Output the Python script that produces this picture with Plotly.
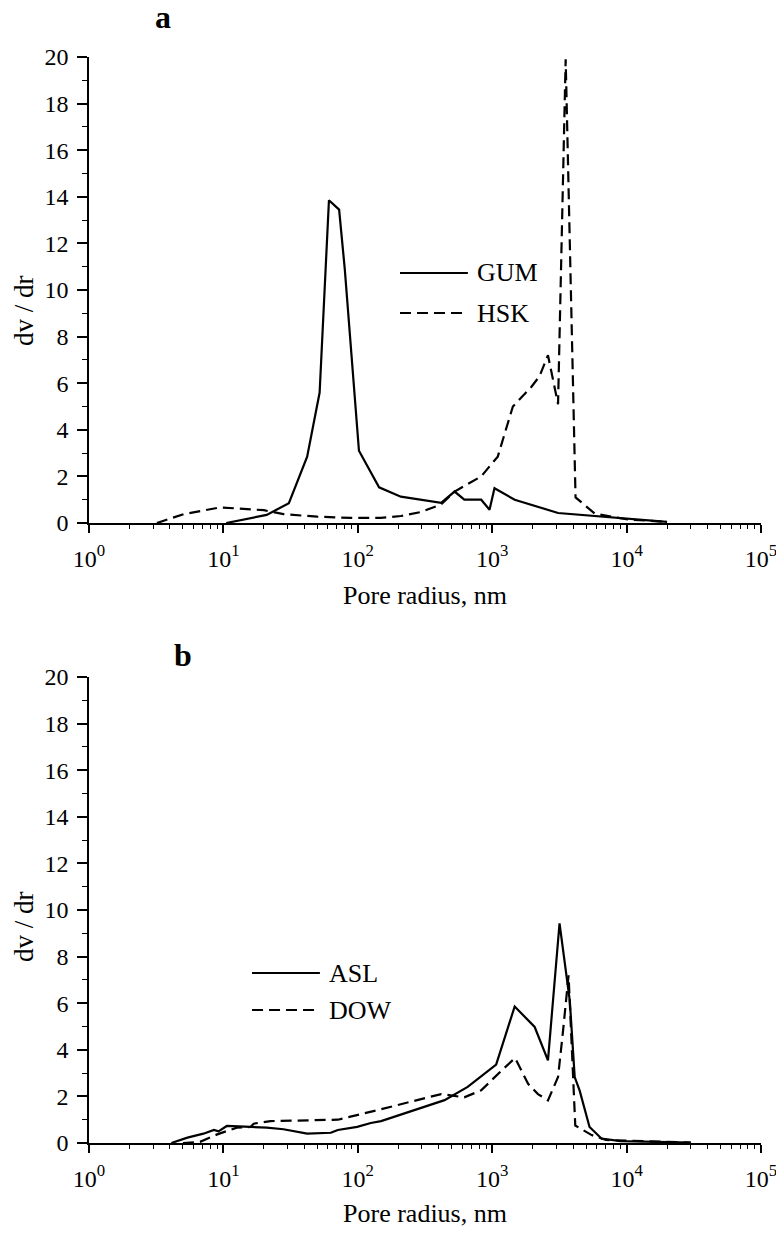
import plotly.graph_objects as go
from plotly.subplots import make_subplots

# pore size distributions (radius in nm, dv/dr)
GUM_R = [10.5, 16, 21, 30.7, 42, 52, 61, 72.6, 80, 102, 144, 209, 295, 417, 525,
         620, 828, 955, 1040, 1470, 3090, 5800, 9200, 20000]
GUM_V = [0.0, 0.2, 0.35, 0.85, 2.85, 5.6, 13.85, 13.45, 10.9, 3.1, 1.53, 1.13, 1.0,
         0.87, 1.35, 1.0, 1.0, 0.57, 1.49, 1.0, 0.43, 0.3, 0.2, 0.05]

HSK_R = [3.2, 5.06, 9.5, 15.9, 20, 28, 50, 89, 148, 209, 295, 417, 525, 828, 1100,
         1425, 1960, 2250, 2600, 3090, 3520, 4170, 5800, 10200, 20000]
HSK_V = [0.0, 0.38, 0.67, 0.6, 0.55, 0.38, 0.27, 0.22, 0.22, 0.3, 0.47, 0.8, 1.35,
         2.0, 2.85, 5.0, 5.85, 6.3, 7.2, 5.1, 19.9, 1.1, 0.4, 0.15, 0.05]

ASL_R = [4.1, 5.4, 7.1, 8.5, 9.2, 10.6, 15.9, 21, 28, 42, 63, 71, 99, 125, 149, 442,
         657, 1070, 1470, 2070, 2600, 3170, 3780, 4110, 4470, 5300, 6500, 9000, 30000]
ASL_V = [0.0, 0.23, 0.4, 0.56, 0.5, 0.73, 0.69, 0.66, 0.59, 0.4, 0.44, 0.56, 0.69,
         0.86, 0.94, 1.84, 2.41, 3.36, 5.86, 4.98, 3.55, 9.43, 6.1, 2.83, 2.26, 0.69,
         0.19, 0.08, 0.02]

DOW_R = [5.0, 6.7, 9.0, 12.6, 15.9, 16.8, 22.4, 71, 149, 417, 620, 828, 1170, 1480,
         1850, 2190, 2600, 3090, 3370, 3700, 4150, 5500, 7000, 30000]
DOW_V = [0.0, 0.05, 0.37, 0.66, 0.69, 0.83, 0.94, 1.0, 1.45, 2.1, 1.96, 2.26, 3.1,
         3.65, 2.54, 2.1, 1.83, 2.83, 4.84, 7.2, 0.75, 0.34, 0.13, 0.02]

X_TICKS = [1, 10, 100, 1000, 10000, 100000]
X_TICK_TEXT = ["10<sup>%d</sup>" % i for i in range(6)]

FONT = "Liberation Serif, Times New Roman, serif"
DASH = "11px,6px"
TICKFONT = dict(family=FONT, size=24, color="black")

fig = make_subplots(rows=2, cols=1, vertical_spacing=0.1418)

panels = [
    (1, "GUM", GUM_R, GUM_V, "solid"),
    (1, "HSK", HSK_R, HSK_V, DASH),
    (2, "ASL", ASL_R, ASL_V, "solid"),
    (2, "DOW", DOW_R, DOW_V, DASH),
]
for row, name, r, v, dash in panels:
    fig.add_trace(go.Scatter(x=r, y=v, name=name, mode="lines",
                             line=dict(color="black", width=2.2, dash=dash),
                             showlegend=False), row=row, col=1)

for row in (1, 2):
    fig.update_xaxes(type="log", range=[0, 5], tickvals=X_TICKS, ticktext=X_TICK_TEXT,
                     showline=True, linecolor="black", linewidth=1.5,
                     ticks="outside", ticklen=8, tickwidth=1.5, tickcolor="black",
                     minor=dict(ticks="outside", ticklen=4, tickwidth=1.2,
                                tickcolor="black", dtick="D1"),
                     showgrid=False, zeroline=False, ticklabelstandoff=5,
                     tickfont=TICKFONT, automargin=False,
                     title=dict(text="Pore radius, nm", standoff=15,
                                font=dict(family=FONT, size=26, color="black")),
                     row=row, col=1)
    fig.update_yaxes(range=[0, 20], dtick=2, tick0=0,
                     showline=True, linecolor="black", linewidth=1.5,
                     ticks="outside", ticklen=10, tickwidth=1.5, tickcolor="black",
                     minor=dict(ticks="outside", ticklen=5, tickwidth=1.2,
                                tickcolor="black", dtick=1),
                     showgrid=False, zeroline=False, ticklabelstandoff=4,
                     tickfont=TICKFONT, automargin=False,
                     row=row, col=1)

# y titles, placed a little below the axis centre as in the original
for yref, yy in (("y domain", 0.455), ("y2 domain", 0.4635)):
    fig.add_annotation(xref="paper", yref=yref, x=-0.0967, y=yy, text="dv / dr",
                       textangle=-90, showarrow=False,
                       xanchor="center", yanchor="middle",
                       font=dict(size=27, color="black", family=FONT))

# legends drawn as in the original: long line samples with text on the right
legend_items = [
    ("x domain", "y domain", 0.4628, 0.5365, "GUM", "solid"),
    ("x domain", "y domain", 0.4628, 0.4506, "HSK", DASH),
    ("x2 domain", "y2 domain", 0.2426, 0.3648, "ASL", "solid"),
    ("x2 domain", "y2 domain", 0.2426, 0.2854, "DOW", DASH),
]
for xref, yref, x0, yy, label, dash in legend_items:
    x1 = x0 + 0.101
    fig.add_shape(type="line", xref=xref, yref=yref, x0=x0, x1=x1, y0=yy, y1=yy,
                  line=dict(color="black", width=2, dash=dash))
    fig.add_annotation(xref=xref, yref=yref, x=x1 + 0.01, y=yy, text=label,
                       showarrow=False, xanchor="left", yanchor="middle",
                       font=dict(size=26, color="black", family=FONT))

# panel letters, anchored near their baselines
for letter, xx, yy in (("a", 0.110, 1.018), ("b", 0.140, 0.431)):
    fig.add_annotation(xref="paper", yref="paper", x=xx, y=yy, text="<b>%s</b>" % letter,
                       showarrow=False, xanchor="center", yanchor="bottom",
                       font=dict(size=32, color="black", family=FONT))

# the page body adds an 8px margin, so the figure is shifted 8px from the page corner
fig.update_layout(
    width=776, height=1220,
    margin=dict(l=81, r=23, t=49, b=85),
    paper_bgcolor="white", plot_bgcolor="white",
    font=dict(family=FONT, size=24, color="black"),
)

fig.write_html("out.html")
